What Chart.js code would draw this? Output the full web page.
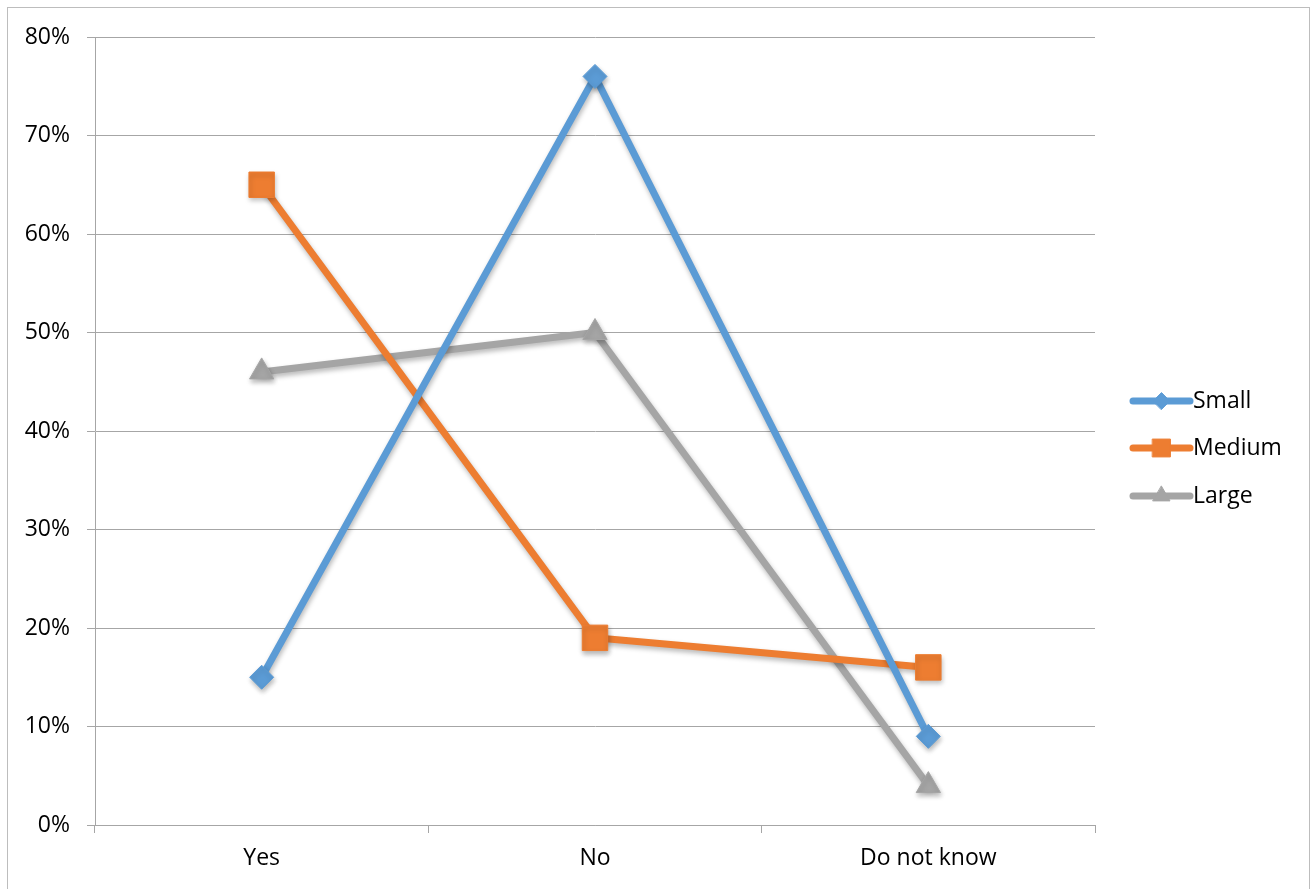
<!DOCTYPE html>
<html>
<head>
<meta charset="utf-8">
<script src="https://cdn.jsdelivr.net/npm/chart.js@4.4.0/dist/chart.umd.min.js"></script>
<style>
  html, body { margin: 0; padding: 0; background: #fff; }
  #wrap { position: relative; width: 1316px; height: 889px; overflow: hidden; }
  #frame { position: absolute; left: 7px; top: 7px; width: 1303px; height: 900px; border: 1px solid #bdbdbd; box-sizing: border-box; pointer-events: none; }
  canvas { position: absolute; left: 0; top: 0; }
</style>
</head>
<body>
<div id="wrap">
  <canvas id="c" width="1316" height="889"></canvas>
  <div id="frame"></div>
</div>
<script>
const categories = ['Yes', 'No', 'Do not know'];
const smallValues  = [15, 76, 9];
const mediumValues = [65, 19, 16];
const largeValues  = [46, 50, 4];
const seriesNames  = ['Small', 'Medium', 'Large'];
const yTicks = [0, 10, 20, 30, 40, 50, 60, 70, 80];

const BLUE = '#5B9BD5', ORANGE = '#ED7D31', GREY = '#A5A5A5';
const FONT = '"Open Sans", "Noto Sans", sans-serif';
const FONT_SIZE = 23;

function series(label, data, color, style, radius) {
  return {
    label, data,
    borderColor: color, backgroundColor: color,
    borderWidth: 7,
    pointStyle: style, pointRadius: radius, pointHoverRadius: radius,
    pointBackgroundColor: color, pointBorderColor: color, pointBorderWidth: 1,
    borderJoinStyle: 'round', borderCapStyle: 'round',
    tension: 0
  };
}

// soft drop shadow under lines and markers
const shadowPlugin = {
  id: 'shadow',
  beforeDatasetDraw(chart) {
    const ctx = chart.ctx;
    ctx.save();
    ctx.shadowColor = 'rgba(0,0,0,0.28)';
    ctx.shadowBlur = 5;
    ctx.shadowOffsetX = 1;
    ctx.shadowOffsetY = 3;
  },
  afterDatasetDraw(chart) { chart.ctx.restore(); }
};

// legend on the right: line sample with the marker in the middle
const sideLegend = {
  id: 'sideLegend',
  afterDraw(chart) {
    const ctx = chart.ctx;
    const x0 = 1133, x1 = 1190, tx = 1193;
    const ys = [401, 448, 496];
    chart.data.datasets.forEach((ds, i) => {
      const y = ys[i];
      ctx.save();
      ctx.strokeStyle = ds.borderColor;
      ctx.lineWidth = 7;
      ctx.lineCap = 'round';
      ctx.beginPath(); ctx.moveTo(x0, y); ctx.lineTo(x1, y); ctx.stroke();
      ctx.fillStyle = ds.borderColor;
      ctx.strokeStyle = ds.borderColor;
      ctx.lineWidth = 1;
      Chart.helpers.drawPoint(ctx, { pointStyle: ds.pointStyle, radius: ds.pointRadius * 0.7, rotation: 0, borderWidth: 1 }, (x0 + x1) / 2, y);
      ctx.fillStyle = '#000';
      ctx.font = FONT_SIZE + 'px ' + FONT;
      ctx.textBaseline = 'middle';
      ctx.textAlign = 'left';
      ctx.fillText(ds.label, tx, y);
      ctx.restore();
    });
  }
};

new Chart(document.getElementById('c'), {
  type: 'line',
  data: {
    labels: categories,
    datasets: [
      series(seriesNames[0], smallValues, BLUE, 'rectRot', 12),
      series(seriesNames[1], mediumValues, ORANGE, 'rect', 18),
      series(seriesNames[2], largeValues, GREY, 'triangle', 14)
    ]
  },
  options: {
    responsive: false,
    animation: false,
    events: [],
    layout: { padding: { left: 0, top: 37, right: 221, bottom: 0 } },
    plugins: { legend: { display: false }, tooltip: { enabled: false } },
    scales: {
      x: {
        type: 'category',
        offset: true,
        afterFit(s) { s.height = 64; },
        grid: { offset: true, drawOnChartArea: false, drawTicks: true, tickLength: 8, color: '#a6a6a6', lineWidth: 1 },
        border: { display: true, color: '#a6a6a6', width: 1 },
        ticks: { color: '#000', font: { family: FONT, size: FONT_SIZE }, padding: 12 }
      },
      y: {
        min: 0, max: 80,
        afterFit(s) { s.width = 95; },
        afterBuildTicks(s) { s.ticks = yTicks.map(v => ({ value: v })); },
        grid: { drawTicks: true, tickLength: 8, color: '#a6a6a6', lineWidth: 1 },
        border: { display: true, color: '#a6a6a6', width: 1 },
        ticks: { color: '#000', font: { family: FONT, size: FONT_SIZE }, padding: 17, callback: v => v + '%' }
      }
    }
  },
  plugins: [shadowPlugin, sideLegend]
});
</script>
</body>
</html>
